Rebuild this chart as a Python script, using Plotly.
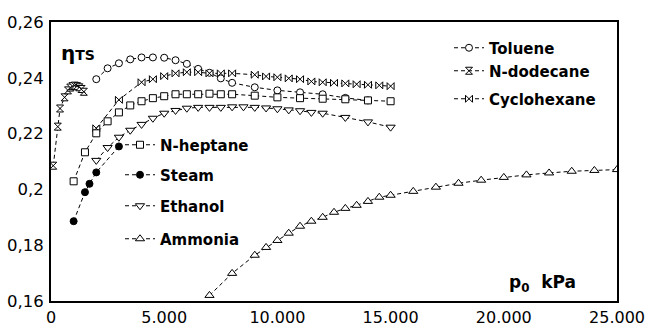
import plotly.graph_objects as go

# ---------------- data ----------------
toluene_x = [2000, 2500, 3000, 3500, 4000, 4500, 5000, 5500, 6000, 6500, 7000, 7500, 8000,
             9000, 10000, 11000, 12000, 13000, 14000]
toluene_y = [0.2395, 0.2434, 0.2452, 0.2466, 0.2473, 0.2473, 0.2472, 0.2463, 0.2450, 0.2432,
             0.2418, 0.2398, 0.2382, 0.2366, 0.2355, 0.2348, 0.2341, 0.2328, 0.2319]

dodecane_x = [100, 300, 400, 600, 750, 850, 950, 1050, 1150, 1250, 1350, 1450]
dodecane_y = [0.2085, 0.2225, 0.2290, 0.2330, 0.2355, 0.2365, 0.2370, 0.2372, 0.2370,
              0.2366, 0.2360, 0.2350]

cyclohexane_x = [2000, 3000, 4000, 4500, 5000, 5500, 6000, 6500, 7000, 7500, 8000, 9000,
                 9500, 10000, 10500, 11000, 11500, 12000, 12500, 13000, 13500, 14000, 14500, 15000]
cyclohexane_y = [0.2219, 0.2321, 0.2384, 0.2395, 0.2406, 0.2416, 0.2420, 0.2420, 0.2416,
                 0.2416, 0.2416, 0.2411, 0.2405, 0.2402, 0.2398, 0.2395, 0.2387, 0.2384,
                 0.2382, 0.2380, 0.2377, 0.2375, 0.2373, 0.2370]

heptane_x = [1000, 1500, 2000, 2500, 3000, 3500, 4000, 4500, 5000, 5500, 6000, 6500, 7000,
             7500, 8000, 9000, 10000, 11000, 12000, 13000, 14000, 15000]
heptane_y = [0.2029, 0.2133, 0.2201, 0.2244, 0.2276, 0.2301, 0.2316, 0.2327, 0.2334, 0.2341,
             0.2341, 0.2341, 0.2343, 0.2341, 0.2341, 0.2336, 0.2330, 0.2327, 0.2325, 0.2323,
             0.2319, 0.2316]

steam_x = [1000, 1500, 1700, 2000, 3000]
steam_y = [0.1886, 0.1990, 0.2020, 0.2061, 0.2154]

ethanol_x = [2000, 2500, 3000, 3500, 4000, 4500, 5000, 5500, 6000, 6500, 7000, 7500, 8000,
             8500, 9000, 9500, 10000, 10500, 11000, 11500, 12000, 13000, 14000, 15000]
ethanol_y = [0.2104, 0.2150, 0.2187, 0.2212, 0.2233, 0.2255, 0.2273, 0.2283, 0.2291, 0.2294,
             0.2294, 0.2294, 0.2296, 0.2296, 0.2294, 0.2292, 0.2289, 0.2285, 0.2282, 0.2276,
             0.2273, 0.2258, 0.2242, 0.2223]

ammonia_x = [7000, 8000, 9000, 9500, 10000, 10500, 11000, 11500, 12000, 12500, 13000, 13500,
             14000, 14500, 15000, 16000, 17000, 18000, 19000, 20000, 21000, 22000, 23000,
             24000, 25000]
ammonia_y = [0.1620, 0.1699, 0.1764, 0.1792, 0.1817, 0.1843, 0.1868, 0.1886, 0.1900, 0.1918,
             0.1932, 0.1943, 0.1957, 0.1972, 0.1979, 0.1993, 0.2008, 0.2022, 0.2033, 0.2043,
             0.2052, 0.2059, 0.2065, 0.2068, 0.2071]

x_tickvals = [0, 5000, 10000, 15000, 20000, 25000]
x_ticktext = ["0", "5.000", "10.000", "15.000", "20.000", "25.000"]
y_tickvals = [0.16, 0.18, 0.20, 0.22, 0.24, 0.26]
y_ticktext = ["0,16", "0,18", "0,2", "0,22", "0,24", "0,26"]

# ---------------- figure ----------------
W, H = 648, 331
L, R, T, B = 51, 31, 22, 30
PW, PH = W - L - R, H - T - B


def px(xp):
    return (xp - L) / PW


def py(yp):
    return (H - B - yp) / PH


LINE = dict(color="black", width=1, dash="4px,3px")

series = [
    ("Toluene", toluene_x, toluene_y, "circle", 7, "white", "legend", 48),
    ("N-dodecane", dodecane_x, dodecane_y, "hourglass", 7, "white", "legend2", 71),
    ("Cyclohexane", cyclohexane_x, cyclohexane_y, "bowtie", 7, "white", "legend3", 99),
    ("N-heptane", heptane_x, heptane_y, "square", 7, "white", "legend4", 145),
    ("Steam", steam_x, steam_y, "circle", 7, "black", "legend5", 175),
    ("Ethanol", ethanol_x, ethanol_y, "triangle-down", 8, "white", "legend6", 206),
    ("Ammonia", ammonia_x, ammonia_y, "triangle-up", 8, "white", "legend7", 239),
]

fig = go.Figure()
legend_layout = {}
for name, xs, ys, sym, size, fill, leg, ypix in series:
    fig.add_trace(go.Scatter(
        x=xs, y=ys, name=name, mode="lines+markers",
        line=LINE,
        marker=dict(symbol=sym, size=size, color=fill,
                    line=dict(color="black", width=1)),
        legend=leg, cliponaxis=True,
    ))
    xl = 449 if leg in ("legend", "legend2", "legend3") else 120
    legend_layout[leg] = dict(
        x=px(xl), y=py(ypix), xanchor="left", yanchor="middle",
        bgcolor="rgba(0,0,0,0)", borderwidth=0, itemwidth=30,
        font=dict(family="DejaVu Sans", size=15, color="black", weight="bold"),
    )

fig.update_layout(
    width=W, height=H,
    margin=dict(l=L, r=R, t=T, b=B, pad=0),
    paper_bgcolor="white", plot_bgcolor="white",
    showlegend=True,
    **legend_layout,
    xaxis=dict(
        range=[0, 25000], tickvals=x_tickvals, ticktext=x_ticktext,
        showgrid=False, zeroline=False, showline=True, linecolor="black",
        linewidth=2, mirror=True, ticks="", ticklabelstandoff=1,
        automargin=False,
        tickfont=dict(family="DejaVu Sans", size=16, color="black"),
    ),
    yaxis=dict(
        range=[0.16, 0.26], tickvals=y_tickvals, ticktext=y_ticktext,
        showgrid=False, zeroline=False, showline=True, linecolor="black",
        linewidth=2, mirror=True, ticks="", ticklabelstandoff=2,
        automargin=False,
        tickfont=dict(family="DejaVu Sans", size=16.5, color="black"),
    ),
    annotations=[
        dict(text="<b>η<span style='font-size:14px'>TS</span></b>",
             xref="paper", yref="paper", x=px(59), y=py(53),
             xanchor="left", yanchor="middle", showarrow=False,
             font=dict(family="DejaVu Sans", size=20, color="black")),
        dict(text="<b>p<sub>0</sub>  kPa</b>",
             xref="paper", yref="paper", x=px(578), y=py(283),
             xanchor="right", yanchor="middle", showarrow=False,
             font=dict(family="DejaVu Sans", size=17, color="black")),
    ],
)

fig.write_html("out.html")
